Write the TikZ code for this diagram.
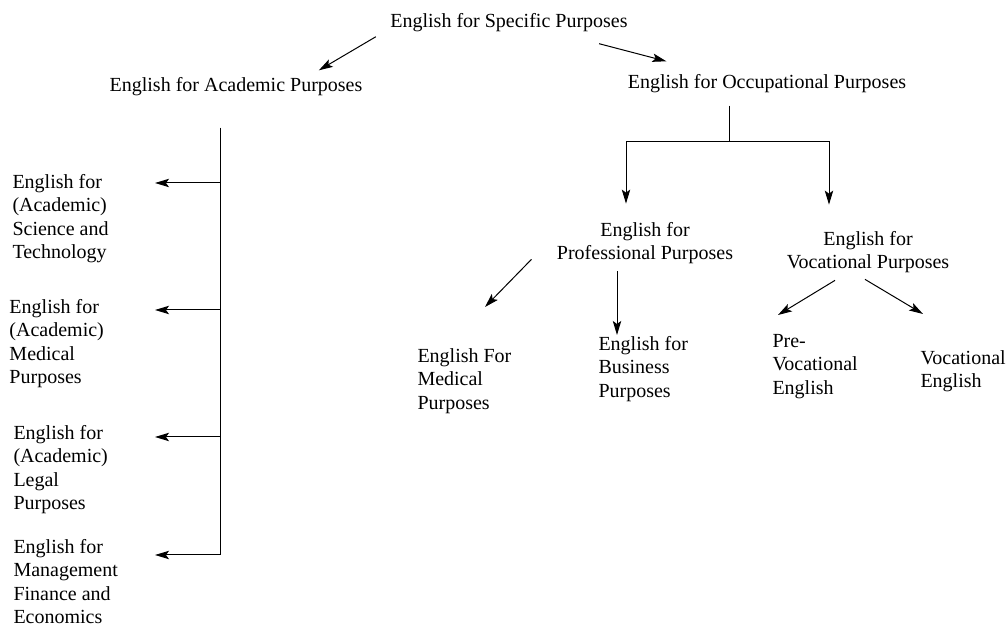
\documentclass[tikz,border=0pt]{standalone}
\usepackage{fontspec}
\setmainfont{Liberation Serif}
\usetikzlibrary{arrows.meta}
\tikzset{
	lbl/.style={inner sep=0pt, font=\fontsize{10}{11.7}\selectfont},
	leaf/.style={lbl, align=left, anchor=north west},
	arr/.style={-{Stealth[length=7pt,width=4.2pt,inset=1.5pt]}}
}
\begin{document}
\begin{tikzpicture}[x=0.5pt,y=-0.5pt,line width=0.5pt]
	\useasboundingbox (0,0) rectangle (1008,630);
	
	\node[lbl] (esp) at (509,23) {English for Specific Purposes};
	\node[lbl] (eap) at (236,87) {English for Academic Purposes};
	\node[lbl] (eop) at (767,84) {English for Occupational Purposes};
	
	\node[lbl, align=center] (epp) at (645,243) {English for\\Professional Purposes};
	\node[lbl, align=center] (evp) at (868,252) {English for\\Vocational Purposes};
	
	\node[leaf] (med) at (417,348) {English For\\Medical\\Purposes};
	\node[leaf] (bus) at (598,336) {English for\\Business\\Purposes};
	\node[leaf] (prevoc) at (772,334) {Pre-\\Vocational\\English};
	\node[leaf] (voc) at (920,350) {Vocational\\English};
	
	\node[leaf] (b1) at (12,174) {English for\\(Academic)\\Science and\\Technology};
	\node[leaf] (b2) at (9,299) {English for\\(Academic)\\Medical\\Purposes};
	\node[leaf] (b3) at (13,425) {English for\\(Academic)\\Legal\\Purposes};
	\node[leaf] (b4) at (13,539) {English for\\Management\\Finance and\\Economics};
	
	\draw[arr] ([shift={(-14,4)}]esp.south west) -- ([shift={(-44,-7)}]eap.north east);
	\draw[arr] ([shift={(-29,11)}]esp.south east) -- ([shift={(39,-13)}]eop.north west);
	
	\coordinate (fork) at ([shift={(-38,48)}]eop.south);
	\draw ([shift={(-38,12)}]eop.south) -- (fork);
	\draw[arr] (fork) -| ([shift={(-19,-18)}]epp.north);
	\draw[arr] (fork) -| ([shift={(-39,-26)}]evp.north);
	
	\draw[arr] ([shift={(-25,-5)}]epp.south west) -- ([shift={(68,-41)}]med.north west);
	\draw[arr] ([shift={(-28,7)}]epp.south) -- ([shift={(19,-1)}]bus.north west);
	\draw[arr] ([shift={(-33,7)}]evp.south) -- ([shift={(6,-19)}]prevoc.north west);
	\draw[arr] ([shift={(-3,6)}]evp.south) -- ([shift={(3,-36)}]voc.north west);
	
	\coordinate (trunk) at ([shift={(-16,31)}]eap.south);
	\draw (trunk) -- ([yshift=-8pt]trunk |- b4.north);
	\foreach \b/\dy in {b1/4.5,b2/5.5,b3/6,b4/8}
		\draw[arr] ([yshift=-\dy pt]trunk |- \b.north) -- ++(-65,0);
\end{tikzpicture}
\end{document}
